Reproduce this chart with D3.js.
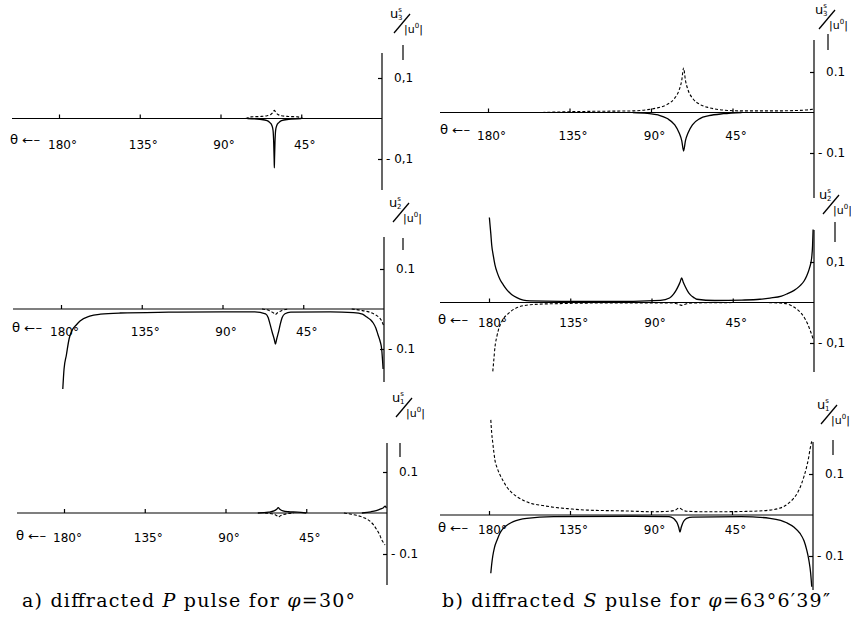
<!DOCTYPE html>
<html><head><meta charset="utf-8">
<script src="https://cdn.jsdelivr.net/npm/d3@7"></script>
<style>body{margin:0;background:#fff}svg{display:block}</style>
</head><body><svg id="c" width="851" height="627"></svg>
<script>
// ---- data ----
const thetaTicks = [180, 135, 90, 45];
const thetaTickLabels = ["180°", "135°", "90°", "45°"];
const yTicks = [0.1, -0.1];
const components = ["3", "3", "2", "2", "1", "1"];
const captions = ["a) diffracted ", "P", " pulse for ", "φ", "=30°"];
const captionsB = ["b) diffracted ", "S", " pulse for ", "φ", "=63°6′39″"];

const a1Solid = [[75,0],[68,-0.002],[64,-0.005],[62.5,-0.01],[61.3,-0.018],[60.7,-0.03],[60.35,-0.06],[60.1,-0.1],[60,-0.122],[59.9,-0.1],[59.65,-0.06],[59.3,-0.03],[58.7,-0.018],[57.5,-0.01],[56,-0.005],[52,-0.002],[45,0]];
const a1Dashed = [[76,0],[73,0.004],[68,0.005],[64,0.007],[62,0.01],[60.8,0.015],[60,0.02],[59.2,0.015],[58,0.01],[56,0.007],[52,0.005],[47,0.004],[44,0]];

const b1Solid = [[100,0],[92,-0.002],[86,-0.006],[81,-0.015],[77,-0.03],[74.5,-0.05],[73,-0.07],[72,-0.095],[71,-0.07],[69.5,-0.05],[67,-0.03],[63,-0.015],[58,-0.008],[50,-0.003],[40,0]];
const b1Dashed = [[150,0],[135,0.002],[120,0.003],[100,0.004],[92,0.007],[86,0.012],[81,0.02],[77,0.035],[74.5,0.055],[73,0.08],[72,0.11],[71,0.08],[69.5,0.055],[67,0.035],[63,0.02],[58,0.012],[50,0.006],[40,0.004],[20,0.004],[5,0.006],[0.5,0.008]];

const a2Solid = [[179,-0.2],[178.3,-0.15],[177,-0.115],[175.5,-0.075],[174,-0.055],[171.5,-0.04],[169.4,-0.03],[164,-0.018],[158,-0.013],[147,-0.01],[120,-0.008],[90,-0.007],[72,-0.007],[66,-0.012],[64.5,-0.022],[63.5,-0.038],[62.3,-0.058],[61.2,-0.075],[60.5,-0.088],[59.8,-0.075],[58.8,-0.058],[57.8,-0.038],[56.8,-0.022],[55.2,-0.012],[52,-0.008],[30,-0.007],[17,-0.009],[12,-0.013],[9.6,-0.02],[7.5,-0.027],[6,-0.035],[4.5,-0.048],[3.3,-0.065],[2.2,-0.08],[1.3,-0.1],[0.5,-0.15]];
const a2Dashed = [[68,0],[64,-0.004],[61.5,-0.01],[60.5,-0.014],[59.5,-0.01],[57,-0.004],[53,0],[40,null],[18,0],[12,-0.004],[8,-0.008],[5,-0.014],[3,-0.02],[1.5,-0.028],[0.3,-0.04]];

const b2Solid = [[179.8,0.21],[179,0.17],[178.5,0.142],[177.6,0.115],[176.7,0.093],[175.3,0.072],[173.9,0.057],[172,0.043],[170.2,0.032],[167.5,0.02],[164.6,0.012],[161,0.006],[157.3,0.004],[140,0.003],[100,0.003],[85,0.005],[80,0.011],[77.9,0.02],[76.4,0.03],[75.1,0.041],[74.2,0.05],[73.3,0.061],[72.4,0.05],[71.4,0.04],[70,0.028],[68.7,0.02],[66.5,0.012],[64.9,0.008],[55,0.005],[40,0.006],[30,0.008],[24.4,0.011],[18,0.016],[15.1,0.021],[11,0.03],[7.8,0.041],[5.5,0.053],[4,0.066],[2.5,0.085],[1.3,0.11],[0.8,0.14],[0.5,0.18]];
const b2Dashed = [[177.9,-0.17],[177.3,-0.14],[176.7,-0.11],[175.7,-0.085],[174.8,-0.068],[173.4,-0.052],[172,-0.04],[169.5,-0.028],[167.4,-0.02],[164,-0.012],[161,-0.008],[152,-0.004],[144,-0.003],[110,-0.001],[80,-0.001],[76,-0.003],[73.3,-0.007],[70.5,-0.003],[66,-0.001],[30,0],[20,-0.001],[15.1,-0.003],[12,-0.009],[9.6,-0.016],[7,-0.027],[5,-0.04],[3.5,-0.053],[2.2,-0.068],[1.2,-0.08],[0.4,-0.093]];

const a3Solid = [[72,0],[66,0.002],[63,0.005],[61.5,0.009],[60.6,0.013],[59.7,0.009],[58,0.005],[55,0.003],[50,0.002],[45,0],[30,null],[14,0],[9,0.003],[6,0.006],[3.5,0.01],[2,0.013],[1,0.017],[0.4,0.012]];
const a3Dashed = [[68,0],[63,-0.003],[61,-0.008],[60.5,-0.01],[59.5,-0.007],[57,-0.003],[52,0],[35,null],[24,0],[20,-0.003],[15,-0.008],[12,-0.013],[9.5,-0.02],[7.5,-0.029],[5.8,-0.04],[4.2,-0.052],[3,-0.065],[2,-0.072],[1.1,-0.078]];

const b3Solid = [[179,-0.142],[178.5,-0.12],[177.9,-0.1],[177,-0.08],[175.5,-0.061],[174,-0.045],[172,-0.032],[169,-0.022],[166.5,-0.016],[163,-0.011],[159,-0.008],[144,-0.004],[100,-0.003],[80,-0.004],[77.6,-0.008],[76.3,-0.014],[75.4,-0.02],[74.6,-0.03],[73.9,-0.042],[73.2,-0.03],[72.4,-0.02],[71.5,-0.013],[70.2,-0.008],[67,-0.005],[40,-0.004],[23.9,-0.008],[18,-0.013],[14.6,-0.019],[10.5,-0.03],[7.2,-0.045],[5,-0.063],[3.5,-0.085],[2.3,-0.11],[1.3,-0.142],[0.7,-0.175]];
const b3Dashed = [[179,0.232],[178.5,0.2],[177.9,0.176],[177.3,0.153],[176.7,0.134],[175.3,0.113],[173.9,0.098],[172,0.082],[170.2,0.069],[167.5,0.055],[164.6,0.045],[161,0.036],[157.2,0.029],[150,0.023],[144.3,0.019],[135,0.015],[125.7,0.012],[105,0.01],[88.9,0.008],[80,0.009],[76.5,0.012],[74.4,0.017],[72.3,0.012],[70.2,0.009],[60,0.008],[51.7,0.008],[35,0.009],[23.9,0.012],[19,0.016],[16.5,0.02],[13.5,0.029],[10.9,0.04],[8.5,0.055],[6.3,0.077],[4.8,0.097],[3.5,0.118],[2.5,0.138],[1.7,0.159],[0.7,0.18]];

// ---- layout ----
const panels = [
 {ax:382, x180:59, yPos:78, yNeg:159, left:12, axTop:53, axBot:190, solid:a1Solid, dashed:a1Dashed, fmt:"0,1", lblDy:30, th:[10,25], title:[390,33], mk:[403,45,60]},
 {ax:814, x180:488, yPos:72, yNeg:153, left:440, axTop:40, axBot:198, solid:b1Solid, dashed:b1Dashed, fmt:"0.1", lblDy:27, th:[440,21], title:[815,29], mk:[828,34,50]},
 {ax:384, x180:61, yPos:269, yNeg:349, left:13, axTop:237, axBot:382, solid:a2Solid, dashed:a2Dashed, fmt:"0.1", lblDy:27, th:[12,23], title:[389,222], mk:[403,238,250]},
 {ax:814, x180:489, yPos:262, yNeg:343, left:440, axTop:230, axBot:372, solid:b2Solid, dashed:b2Dashed, fmt:"0,1", lblDy:24, th:[438,21], title:[819,214], mk:[835,222,242]},
 {ax:387, x180:64, yPos:472, yNeg:554, left:17, axTop:443, axBot:585, solid:a3Solid, dashed:a3Dashed, fmt:"0.1", lblDy:29, th:[16,27], title:[392,417], mk:[400,443,457]},
 {ax:813, x180:489, yPos:474, yNeg:556, left:440, axTop:442, axBot:590, solid:b3Solid, dashed:b3Dashed, fmt:"0.1", lblDy:19, th:[438,17], title:[817,424], mk:[833,440,455]}
];

const svg = d3.select("#c");
const sans = "'DejaVu Sans', sans-serif";

panels.forEach((p, i) => {
  const x = d3.scaleLinear().domain([0, 180]).range([p.ax, p.x180]);
  const y = d3.scaleLinear().domain([-0.1, 0.1]).range([p.yNeg, p.yPos]);
  const g = svg.append("g");
  const y0 = y(0);

  g.append("line").attr("x1", x(x.invert(p.left))).attr("x2", x(0))
    .attr("y1", y0).attr("y2", y0).attr("stroke", "#000").attr("stroke-width", 1.2);
  g.append("line").attr("x1", p.ax).attr("x2", p.ax).attr("y1", p.axTop).attr("y2", p.axBot)
    .attr("stroke", "#000").attr("stroke-width", 1.2);

  const xa = g.append("g").attr("transform", `translate(0,${y0})`)
    .call(d3.axisBottom(x).tickValues(thetaTicks).tickSizeInner(-4).tickSizeOuter(0).tickPadding(0)
      .tickFormat((d, j) => thetaTickLabels[j]));
  xa.select(".domain").remove();
  xa.selectAll("line").attr("stroke", "#000").attr("stroke-width", 1.2);
  xa.selectAll("text").attr("y", p.lblDy).attr("dy", 0).attr("dx", 3)
    .attr("font-family", sans).attr("font-size", 12).attr("fill", "#000");

  const ya = g.append("g").attr("transform", `translate(${p.ax},0)`)
    .call(d3.axisRight(y).tickValues(yTicks).tickSizeInner(-4).tickSizeOuter(0).tickPadding(12)
      .tickFormat(d => d > 0 ? p.fmt : "- " + p.fmt));
  ya.select(".domain").remove();
  ya.selectAll("line").attr("stroke", "#000").attr("stroke-width", 1.2);
  ya.selectAll("text").attr("font-family", sans).attr("font-size", 12).attr("fill", "#000")
    .attr("dx", d => d > 0 ? 0 : -8);

  const line = d3.line().defined(d => d[1] !== null).x(d => x(d[0])).y(d => y(d[1])).curve(d3.curveMonotoneX);
  const sortPts = arr => arr.slice().sort((a, b) => b[0] - a[0]);
  g.append("path").attr("d", line(sortPts(p.dashed))).attr("fill", "none").attr("stroke", "#000")
    .attr("stroke-width", 1.1).attr("stroke-dasharray", "3,2");
  g.append("path").attr("d", line(sortPts(p.solid))).attr("fill", "none").attr("stroke", "#000")
    .attr("stroke-width", 1.3);

  g.append("text").attr("x", p.th[0]).attr("y", y0 + p.th[1]).attr("font-family", sans)
    .attr("font-size", 12).attr("fill", "#000").attr("textLength", 30).attr("lengthAdjust", "spacingAndGlyphs")
    .text("θ ←–");

  const [tx, ty] = p.title;
  const t1 = g.append("text").attr("x", tx).attr("y", ty - 15).attr("font-family", sans)
    .attr("font-size", 13).attr("fill", "#000");
  t1.append("tspan").text("u");
  t1.append("tspan").attr("font-size", 7).attr("dy", -6).text("s");
  t1.append("tspan").attr("font-size", 7).attr("dx", -4).attr("dy", 8).text(components[i]);
  g.append("line").attr("x1", tx + 4).attr("y1", ty).attr("x2", tx + 20).attr("y2", ty - 19)
    .attr("stroke", "#000").attr("stroke-width", 1.3);
  const t2 = g.append("text").attr("x", tx + 14).attr("y", ty).attr("font-family", sans)
    .attr("font-size", 11).attr("fill", "#000");
  t2.append("tspan").text("|u");
  t2.append("tspan").attr("font-size", 7).attr("dy", -5).text("0");
  t2.append("tspan").attr("dy", 5).text("|");
  g.append("line").attr("x1", p.mk[0]).attr("x2", p.mk[0]).attr("y1", p.mk[1]).attr("y2", p.mk[2])
    .attr("stroke", "#000").attr("stroke-width", 1.2);
});

function caption(parts, xPos, len) {
  const t = svg.append("text").attr("x", xPos).attr("y", 607).attr("font-family", "'DejaVu Serif', serif")
    .attr("font-size", 19).attr("fill", "#000").attr("textLength", len).attr("lengthAdjust", "spacing");
  parts.forEach((s, j) => {
    t.append("tspan").attr("font-style", (j === 1 || j === 3) ? "italic" : "normal").text(s);
  });
}
caption(captions, 22, 333);
caption(captionsB, 442, 388);
</script></body></html>
